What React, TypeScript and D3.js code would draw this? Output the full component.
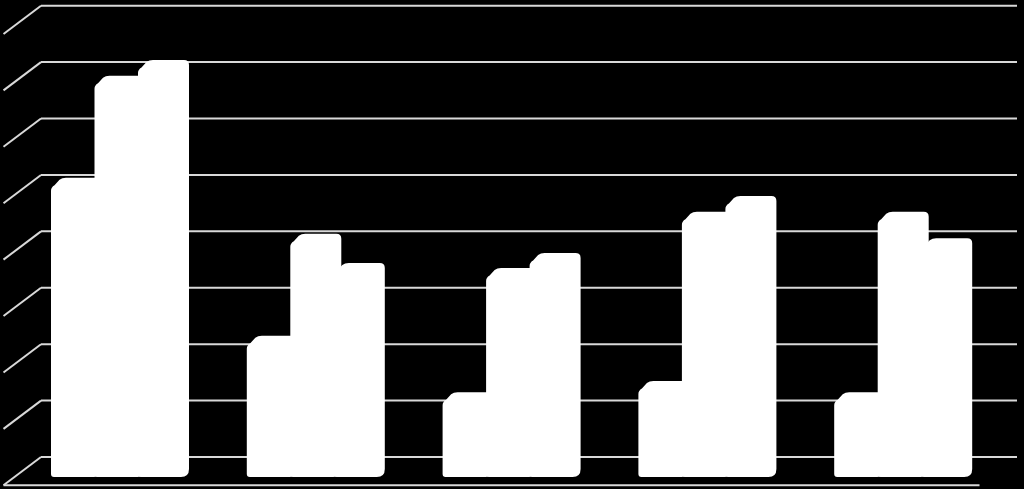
import React from "react";
import * as d3 from "d3";

const categories = ["Category 1", "Category 2", "Category 3", "Category 4", "Category 5"];
const seriesNames = ["Series 1", "Series 2", "Series 3"];
const series1 = [5.09, 2.29, 1.29, 1.49, 1.29];
const series2 = [6.9, 4.1, 3.49, 4.49, 4.49];
const series3 = [7.18, 3.58, 3.76, 4.77, 4.02];
const gridTicks = [0, 1, 2, 3, 4, 5, 6, 7, 8];

const W = 1024;
const H = 489;

export default function App() {
  const allSeries = [series1, series2, series3];

  // back wall
  const wallLeft = 41;
  const wallRight = 1017;
  const depthDx = -37.5;
  const depthDy = 28.3;

  const y = d3.scaleLinear().domain([0, 8]).range([457, 5.7]);
  const xGroup = d3.scaleBand<string>().domain(categories).range([wallLeft, 1020]);
  const xBar = d3.scaleBand<string>().domain(seriesNames).range([0, 130.5]);

  const groupOffset = 10;
  const sideW = 7.5;
  const barBottom = y(0) + 20; // front bottom edge
  const topOffset = 8; // back-of-top offset from wall scale

  const barPath = (x0: number, T: number) => {
    const x1 = x0 + xBar.bandwidth() + sideW;
    const B = barBottom;
    const p = d3.path();
    p.moveTo(x0, T + 13);
    p.quadraticCurveTo(x0, T + 9.5, x0 + 3.5, T + 7.5);
    p.lineTo(x0 + 8.5, T + 2);
    p.quadraticCurveTo(x0 + 11, T, x0 + 15, T);
    p.lineTo(x1 - 5, T);
    p.quadraticCurveTo(x1, T, x1, T + 5);
    p.lineTo(x1, B - 8);
    p.quadraticCurveTo(x1, B, x1 - 8, B);
    p.lineTo(x0 + 3, B);
    p.quadraticCurveTo(x0, B, x0, B - 3);
    p.closePath();
    return p.toString();
  };

  const gridColor = "#d9d9d9";

  return (
    <svg
      width={W}
      height={H}
      style={{ position: "fixed", left: 0, top: 0, display: "block" }}
    >
      <rect x={0} y={0} width={W} height={H} fill="#000" />
      {gridTicks.map((t) => (
        <g key={t}>
          <line x1={wallLeft} x2={wallRight} y1={y(t)} y2={y(t)} stroke={gridColor} strokeWidth={2} />
          <line
            x1={wallLeft}
            y1={y(t)}
            x2={wallLeft + depthDx}
            y2={y(t) + depthDy}
            stroke={gridColor}
            strokeWidth={2}
          />
        </g>
      ))}
      <line
        x1={wallLeft + depthDx}
        x2={wallRight + depthDx}
        y1={y(0) + depthDy}
        y2={y(0) + depthDy}
        stroke={gridColor}
        strokeWidth={2}
      />
      {categories.map((c, ci) => (
        <g key={c}>
          {seriesNames.map((s, si) => {
            const x0 = (xGroup(c) as number) + groupOffset + (xBar(s) as number);
            const T = y(allSeries[si][ci]) + topOffset;
            return <path key={s} d={barPath(x0, T)} fill="#ffffff" />;
          })}
        </g>
      ))}
    </svg>
  );
}
